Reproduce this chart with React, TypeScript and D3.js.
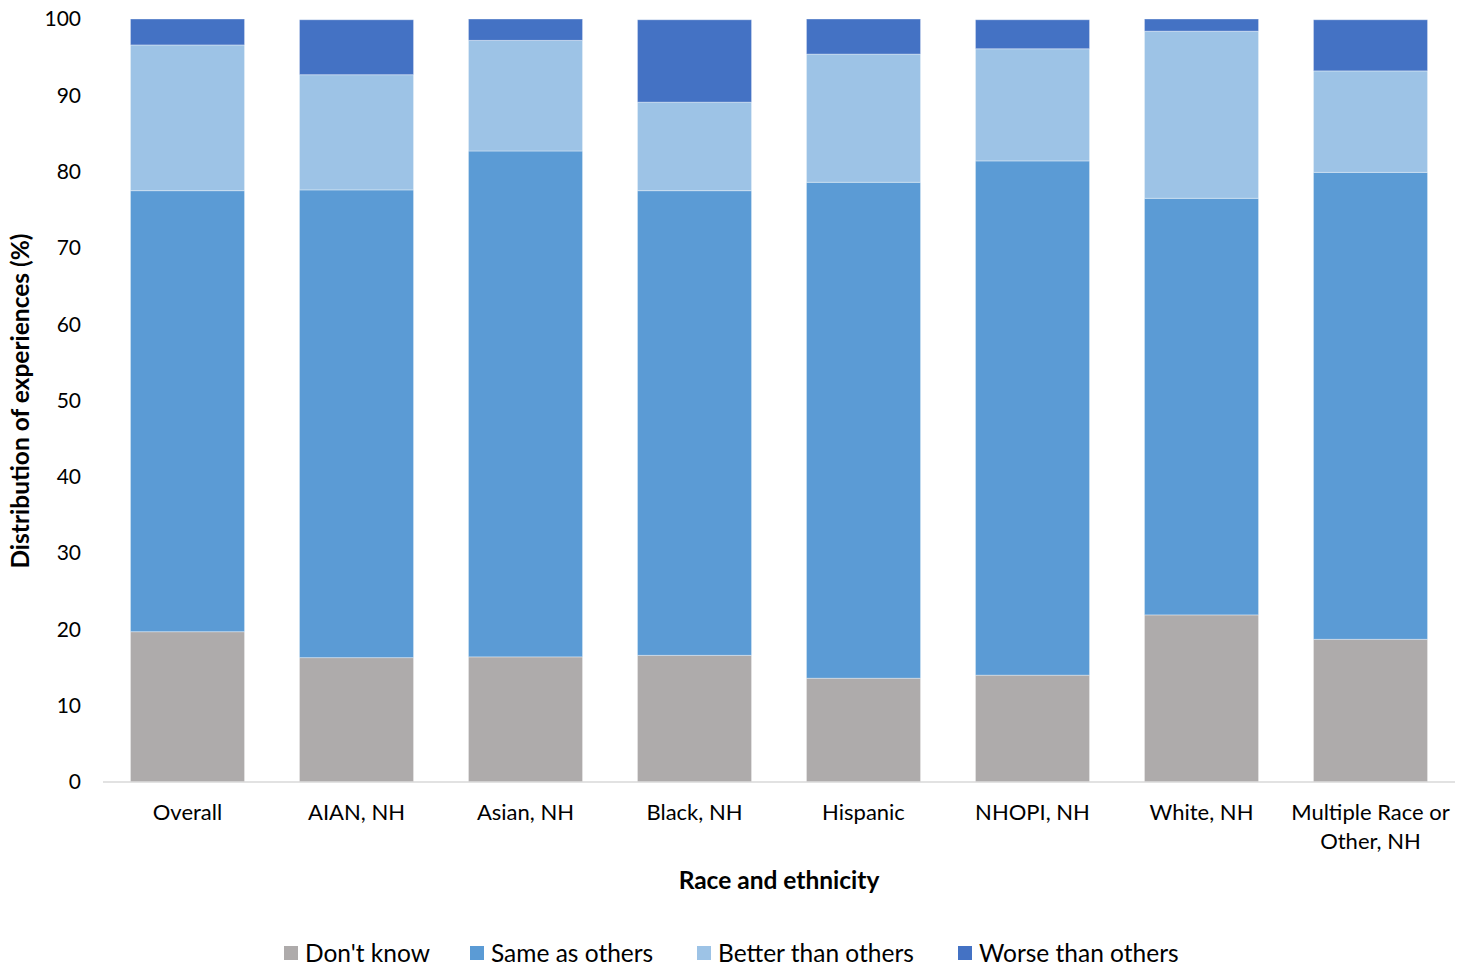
import * as d3 from "d3";

const categories = [
  ["Overall"],
  ["AIAN, NH"],
  ["Asian, NH"],
  ["Black, NH"],
  ["Hispanic"],
  ["NHOPI, NH"],
  ["White, NH"],
  ["Multiple Race or", "Other, NH"],
];

const seriesNames = ["Don't know", "Same as others", "Better than others", "Worse than others"];
const seriesColors = ["#AEABAB", "#5B9BD5", "#9DC3E6", "#4472C4"];

const dontKnow = [19.7, 16.3, 16.4, 16.6, 13.6, 14.0, 21.9, 18.7];
const sameAs = [57.8, 61.3, 66.3, 60.9, 65.0, 67.4, 54.6, 61.2];
const betterThan = [19.1, 15.1, 14.5, 11.6, 16.8, 14.7, 21.9, 13.3];
const worseThan = [3.4, 7.2, 2.8, 10.8, 4.6, 3.8, 1.6, 6.7];

const yTicks = [0, 10, 20, 30, 40, 50, 60, 70, 80, 90, 100];

const W = 1470;
const H = 966;
const font = "Lato, 'Open Sans', sans-serif";

export default function App() {
  const margin = { left: 103, right: 15, top: 19, bottom: 184 };
  const keys = categories.map((c) => c.join(" "));
  const rows = keys.map((k, i) => ({
    key: k,
    s0: dontKnow[i],
    s1: sameAs[i],
    s2: betterThan[i],
    s3: worseThan[i],
  }));
  const stack = d3.stack<any>().keys(["s0", "s1", "s2", "s3"])(rows);

  const x = d3
    .scaleBand()
    .domain(keys)
    .range([margin.left, W - margin.right])
    .paddingInner(0.325)
    .paddingOuter(0.1625);
  const y = d3.scaleLinear().domain([0, 100]).range([H - margin.bottom, margin.top]);

  const legendX = [284, 470, 697, 958];

  return (
    <svg width={W} height={H} style={{ position: "absolute", left: 0, top: 0, background: "#fff" }}>
      <g>
        {stack.map((layer, si) => (
          <g key={si} fill={seriesColors[si]}>
            {layer.map((d, i) => (
              <rect
                key={i}
                x={x(keys[i])}
                width={x.bandwidth()}
                y={y(d[1])}
                height={y(d[0]) - y(d[1])}
                stroke="#ffffff"
                strokeOpacity={0.35}
                strokeWidth={1}
              />
            ))}
          </g>
        ))}
      </g>
      <line
        x1={margin.left}
        x2={W - margin.right}
        y1={y(0)}
        y2={y(0)}
        stroke="#D9D9D9"
        strokeWidth={1.5}
      />
      {yTicks.map((t) => (
        <text
          key={t}
          x={81}
          y={y(t)}
          dy="0.35em"
          textAnchor="end"
          fontFamily={font}
          fontSize={21}
          fill="#000"
        >
          {t}
        </text>
      ))}
      {categories.map((lines, i) => (
        <text
          key={i}
          x={(x(keys[i]) as number) + x.bandwidth() / 2}
          y={820}
          textAnchor="middle"
          fontFamily={font}
          fontSize={22}
          fill="#000"
        >
          {lines.map((l, j) => (
            <tspan key={j} x={(x(keys[i]) as number) + x.bandwidth() / 2} dy={j === 0 ? 0 : 29}>
              {l}
            </tspan>
          ))}
        </text>
      ))}
      <text
        x={779}
        y={889}
        textAnchor="middle"
        fontFamily={font}
        fontSize={24.5}
        fontWeight="bold"
        fill="#000"
      >
        Race and ethnicity
      </text>
      <text
        transform={`translate(29,401) rotate(-90)`}
        textAnchor="middle"
        fontFamily={font}
        fontSize={24.5}
        fontWeight="bold"
        fill="#000"
      >
        Distribution of experiences (%)
      </text>
      {seriesNames.map((n, i) => (
        <g key={n} transform={`translate(${legendX[i]},946)`}>
          <rect width={14} height={14} fill={seriesColors[i]} />
          <text x={21} y={16} fontFamily={font} fontSize={24.5} fill="#000">
            {n}
          </text>
        </g>
      ))}
    </svg>
  );
}
